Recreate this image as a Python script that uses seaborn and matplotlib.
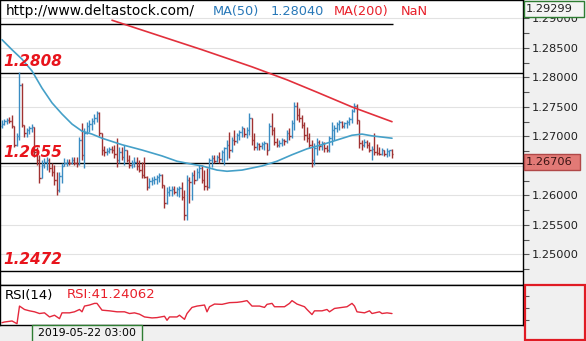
import matplotlib
matplotlib.use("Agg")
import matplotlib.pyplot as plt
from matplotlib.patches import Rectangle
import seaborn as sns
import numpy as np

# ---------------- data ----------------
first_open = 1.2718
highs = [
    1.2728, 1.2730, 1.2731, 1.2733, 1.2736, 1.2718, 1.2706, 1.2809, 1.2791, 1.2719,
    1.2714, 1.2718, 1.2721, 1.2716, 1.2682, 1.2669, 1.2660, 1.2664, 1.2665, 1.2664,
    1.2655, 1.2652, 1.2640, 1.2640, 1.2655, 1.2664, 1.2662, 1.2662, 1.2665, 1.2665,
    1.2665, 1.2699, 1.2723, 1.2714, 1.2725, 1.2728, 1.2731, 1.2738, 1.2743, 1.2742,
    1.2706, 1.2684, 1.2680, 1.2682, 1.2684, 1.2686, 1.2697, 1.2682, 1.2682, 1.2686,
    1.2677, 1.2669, 1.2660, 1.2665, 1.2665, 1.2660, 1.2657, 1.2665, 1.2633, 1.2630,
    1.2631, 1.2633, 1.2635, 1.2638, 1.2636, 1.2618, 1.2614, 1.2616, 1.2616, 1.2616,
    1.2614, 1.2616, 1.2623, 1.2609, 1.2635, 1.2631, 1.2640, 1.2643, 1.2647, 1.2652,
    1.2652, 1.2643, 1.2647, 1.2664, 1.2669, 1.2669, 1.2669, 1.2674, 1.2677, 1.2682,
    1.2694, 1.2708, 1.2699, 1.2711, 1.2706, 1.2711, 1.2718, 1.2714, 1.2716, 1.2740,
    1.2731, 1.2706, 1.2691, 1.2689, 1.2691, 1.2692, 1.2689, 1.2723, 1.2740, 1.2716,
    1.2697, 1.2694, 1.2697, 1.2696, 1.2711, 1.2714, 1.2728, 1.2758, 1.2758, 1.2748,
    1.2736, 1.2725, 1.2716, 1.2706, 1.2694, 1.2689, 1.2697, 1.2694, 1.2692, 1.2691,
    1.2686, 1.2701, 1.2725, 1.2719, 1.2725, 1.2728, 1.2726, 1.2725, 1.2728, 1.2733,
    1.2747, 1.2757, 1.2755, 1.2728, 1.2694, 1.2696, 1.2694, 1.2691, 1.2684, 1.2706,
    1.2687, 1.2682, 1.2680, 1.2677, 1.2680, 1.2677, 1.2679]
lows = [
    1.2714, 1.2719, 1.2721, 1.2723, 1.2714, 1.2682, 1.2684, 1.2694, 1.2716, 1.2699,
    1.2699, 1.2704, 1.2708, 1.2665, 1.2652, 1.2621, 1.2630, 1.2647, 1.2643, 1.2640,
    1.2633, 1.2618, 1.2601, 1.2606, 1.2621, 1.2650, 1.2650, 1.2652, 1.2653, 1.2652,
    1.2648, 1.2652, 1.2660, 1.2647, 1.2704, 1.2708, 1.2711, 1.2721, 1.2725, 1.2701,
    1.2669, 1.2667, 1.2669, 1.2672, 1.2672, 1.2664, 1.2648, 1.2655, 1.2660, 1.2652,
    1.2657, 1.2647, 1.2647, 1.2648, 1.2643, 1.2640, 1.2630, 1.2630, 1.2609, 1.2612,
    1.2618, 1.2619, 1.2619, 1.2623, 1.2613, 1.2579, 1.2585, 1.2599, 1.2599, 1.2602,
    1.2599, 1.2597, 1.2592, 1.2558, 1.2558, 1.2587, 1.2592, 1.2619, 1.2626, 1.2630,
    1.2621, 1.2609, 1.2609, 1.2613, 1.2648, 1.2655, 1.2657, 1.2655, 1.2657, 1.2652,
    1.2660, 1.2664, 1.2674, 1.2686, 1.2689, 1.2694, 1.2699, 1.2699, 1.2697, 1.2702,
    1.2686, 1.2677, 1.2677, 1.2677, 1.2679, 1.2677, 1.2669, 1.2677, 1.2702, 1.2686,
    1.2682, 1.2682, 1.2684, 1.2686, 1.2689, 1.2694, 1.2697, 1.2711, 1.2728, 1.2725,
    1.2714, 1.2694, 1.2691, 1.2680, 1.2648, 1.2652, 1.2669, 1.2677, 1.2677, 1.2674,
    1.2674, 1.2674, 1.2686, 1.2694, 1.2708, 1.2711, 1.2714, 1.2714, 1.2714, 1.2719,
    1.2723, 1.2742, 1.2721, 1.2680, 1.2677, 1.2682, 1.2680, 1.2674, 1.2660, 1.2669,
    1.2669, 1.2669, 1.2669, 1.2667, 1.2665, 1.2667, 1.2664]
closes = [
    1.2721, 1.2726, 1.2728, 1.2726, 1.2718, 1.2686, 1.2701, 1.2787, 1.2719, 1.2706,
    1.2711, 1.2714, 1.2716, 1.2674, 1.2660, 1.2630, 1.2652, 1.2657, 1.2660, 1.2647,
    1.2640, 1.2626, 1.2609, 1.2633, 1.2650, 1.2655, 1.2657, 1.2655, 1.2660, 1.2655,
    1.2653, 1.2694, 1.2669, 1.2706, 1.2718, 1.2721, 1.2726, 1.2731, 1.2740, 1.2706,
    1.2677, 1.2674, 1.2675, 1.2679, 1.2677, 1.2670, 1.2660, 1.2674, 1.2665, 1.2677,
    1.2660, 1.2652, 1.2655, 1.2657, 1.2650, 1.2643, 1.2635, 1.2631, 1.2614, 1.2624,
    1.2626, 1.2628, 1.2631, 1.2635, 1.2618, 1.2587, 1.2606, 1.2609, 1.2611, 1.2606,
    1.2611, 1.2613, 1.2597, 1.2567, 1.2626, 1.2623, 1.2635, 1.2626, 1.2640, 1.2647,
    1.2626, 1.2616, 1.2614, 1.2660, 1.2664, 1.2658, 1.2665, 1.2662, 1.2674, 1.2680,
    1.2686, 1.2677, 1.2694, 1.2692, 1.2702, 1.2708, 1.2714, 1.2704, 1.2711, 1.2731,
    1.2694, 1.2682, 1.2687, 1.2684, 1.2687, 1.2689, 1.2677, 1.2718, 1.2711, 1.2691,
    1.2686, 1.2689, 1.2694, 1.2692, 1.2706, 1.2701, 1.2723, 1.2752, 1.2736, 1.2731,
    1.2719, 1.2702, 1.2697, 1.2686, 1.2660, 1.2680, 1.2691, 1.2684, 1.2689, 1.2680,
    1.2677, 1.2697, 1.2711, 1.2714, 1.2721, 1.2725, 1.2718, 1.2723, 1.2725, 1.2730,
    1.2743, 1.2752, 1.2728, 1.2689, 1.2686, 1.2691, 1.2686, 1.2677, 1.2679, 1.2674,
    1.2672, 1.2670, 1.2677, 1.2670, 1.2675, 1.2677, 1.2671]

ma50_bars = [0, 4, 8, 12, 16, 20, 24, 28, 32, 36, 40, 48, 56, 64, 70, 76, 80, 86,
             90, 96, 104, 110, 116, 122, 128, 134, 140, 144, 148, 152, 156]
ma50_vals = [1.2864, 1.2847, 1.2831, 1.2811, 1.2782, 1.2757, 1.2738, 1.2721, 1.2709,
             1.2704, 1.2697, 1.2686, 1.2677, 1.2667, 1.2658, 1.2653, 1.2650, 1.2643,
             1.2641, 1.2643, 1.2650, 1.2658, 1.2669, 1.2679, 1.2686, 1.2694, 1.2702,
             1.2704, 1.2701, 1.2699, 1.2697]
ma200_bars = [44, 62, 80, 100, 114, 126, 140, 156]
ma200_vals = [1.2897, 1.2872, 1.2847, 1.2818, 1.2796, 1.2775, 1.2750, 1.2725]

rsi_bars = [0, 1, 4, 6, 7, 9, 11, 13, 15, 17, 19, 21, 23, 24, 27, 29, 31, 32, 33, 35,
            37, 38, 40, 43, 46, 49, 51, 53, 55, 57, 60, 62, 65, 66, 67, 70, 71, 73, 74, 76,
            78, 81, 82, 83, 85, 88, 91, 94, 96, 98, 100, 103, 105, 106, 108, 109, 113, 115,
            116, 118, 121, 122, 124, 125, 128, 130, 131, 133, 136, 138, 140, 141, 142, 145,
            147, 148, 151, 152, 154, 156]
rsi_vals = [26.3, 27.4, 29.1, 24.6, 53.5, 47.9, 45.7, 44.1, 41.3, 42.4,
            35.7, 38.5, 32.9, 42.4, 42.4, 44.1, 47.9, 44.1, 53.5, 55.2,
            57.9, 57.9, 46.8, 45.7, 44.1, 44.1, 41.3, 42.4, 40.2, 35.7,
            34.1, 34.6, 36.8, 30.2, 35.7, 35.7, 38.5, 31.8, 41.3, 51.3,
            53.5, 55.2, 44.1, 52.4, 56.8, 56.3, 59.1, 59.6, 60.7, 62.4,
            53.5, 53.5, 51.3, 56.3, 57.9, 52.4, 52.4, 57.9, 62.4, 56.8,
            52.4, 47.9, 39.6, 45.7, 45.7, 47.9, 44.1, 49.6, 51.3, 52.4,
            57.9, 53.5, 44.1, 42.4, 45.7, 41.3, 44.1, 41.3, 42.4, 41.24]

levels = [1.2808, 1.2655, 1.2472]
level_labels = ["1.2808", "1.2655", "1.2472"]
top_line_level = 1.2890
price_ticks = [1.250, 1.255, 1.260, 1.265, 1.270, 1.275, 1.280, 1.285, 1.290]
hidden_tick = 1.265          # its label sits behind the bid box
ask_text = "1.29299"
bid_text = "1.26706"
date_text = "2019-05-22 03:00"

# ---------------- style ----------------
BLUE = "#3a8cc2"
RED = "#a03232"
MA50_C = "#45a0c8"
MA200_C = "#e2303c"
RSI_C = "#e4283c"
LEVEL_C = "#e8141c"

sns.set_style("white")
plt.rcParams['font.family'] = ['DejaVu Sans']

W, H = 586, 341
fig = plt.figure(figsize=(W / 100, H / 100), dpi=100)
fig.patch.set_facecolor("white")

def fx(px):
    return px / W

def fy(py):
    return 1 - py / H

PLOT_R = 523
MAIN_BOT = 285
RSI_BOT = 325
XMIN, XMAX = -0.8, 208.4

fig.add_artist(Rectangle((fx(PLOT_R), 0), 1 - fx(PLOT_R), 1, transform=fig.transFigure,
                         facecolor="#f0f0f0", edgecolor="none", zorder=-5))
fig.add_artist(Rectangle((0, 0), fx(PLOT_R), fy(RSI_BOT), transform=fig.transFigure,
                         facecolor="#f0f0f0", edgecolor="none", zorder=-5))

ax = fig.add_axes([0, fy(MAIN_BOT), fx(PLOT_R), 1 - fy(MAIN_BOT)])
ax2 = fig.add_axes([0, fy(RSI_BOT), fx(PLOT_R), fy(MAIN_BOT) - fy(RSI_BOT)])

# ---------------- price panel ----------------
n = len(closes)
idx = np.arange(n)
opens = [first_open] + closes[:-1]
up = np.array(closes) >= np.array(opens)
colors = np.where(up, BLUE, RED)
ax.vlines(idx, lows, highs, colors=colors, lw=1.0, zorder=3)
ax.hlines(opens, idx - 0.5, idx, colors=colors, lw=1.0, zorder=3)
ax.hlines(closes, idx, idx + 0.5, colors=colors, lw=1.0, zorder=3)

sns.lineplot(x=ma50_bars, y=ma50_vals, ax=ax, color=MA50_C, lw=1.2, legend=False, zorder=4)
sns.lineplot(x=ma200_bars, y=ma200_vals, ax=ax, color=MA200_C, lw=1.2, legend=False, zorder=4)

for lv in levels:
    ax.axhline(lv, color="black", lw=1.0, zorder=2)
ax.hlines(top_line_level, XMIN, n - 0.6, color="black", lw=1.0, zorder=2)
for lv, txt in zip(levels, level_labels):
    ax.annotate(txt, xy=(0, lv), xycoords=("axes fraction", "data"), xytext=(3, 11),
                textcoords="offset pixels", ha="left", va="center", fontsize=11,
                fontweight="bold", fontstyle="italic", color=LEVEL_C, zorder=6)

ax.set_xlim(XMIN, XMAX)
ax.set_ylim(1.24482, 1.29313)
ax.set_xticks([])
ax.yaxis.tick_right()
ax.set_yticks(price_ticks)
ax.set_yticklabels(["" if abs(v - hidden_tick) < 1e-9 else f"{v:.5f}" for v in price_ticks])
ax.set_yticks([v + 0.0025 for v in price_ticks[:-1]] + [1.2475], minor=True)
ax.tick_params(axis="y", which="both", direction="out", length=4, width=0.8,
               color="#555555", labelsize=8.2, labelcolor="#202020", pad=2)
ax.grid(axis="y", which="major", color="#e2e2e2", lw=0.8)
ax.set_axisbelow(True)
ax.set_xlabel("")
ax.set_ylabel("")
for s in ax.spines.values():
    s.set_color("black")
    s.set_linewidth(1.0)

# ---------------- RSI panel ----------------
sns.lineplot(x=rsi_bars, y=rsi_vals, ax=ax2, color=RSI_C, lw=1.0, legend=False)
ax2.set_xlim(XMIN, XMAX)
ax2.set_ylim(22.5, 88.0)
ax2.set_xticks([])
ax2.yaxis.tick_right()
ax2.set_yticks([30, 50, 70])
ax2.set_yticklabels([])
ax2.tick_params(axis="y", direction="out", length=4, width=0.8, color="#555555")
ax2.set_xlabel("")
ax2.set_ylabel("")
for s in ax2.spines.values():
    s.set_color("black")
    s.set_linewidth(1.0)

# ---------------- texts and boxes ----------------
hy = fy(11.5)
fig.text(fx(5.5), hy, "http://www.deltastock.com/", fontsize=9.9, color="black", va="center")
fig.text(fx(213), hy, "MA(50)", fontsize=9.3, color="#2878b8", va="center")
fig.text(fx(271), hy, "1.28040", fontsize=9.3, color="#2878b8", va="center")
fig.text(fx(334), hy, "MA(200)", fontsize=9.3, color="#e8202a", va="center")
fig.text(fx(401), hy, "NaN", fontsize=9.3, color="#e8202a", va="center")

fig.text(fx(4.5), fy(295), "RSI(14)", fontsize=9.5, color="black", va="center")
fig.text(fx(67), fy(295), "RSI:41.24062", fontsize=9.5, color="#e8202a", va="center")

fig.add_artist(Rectangle((fx(523.5), fy(17)), fx(584) - fx(523.5), fy(0.5) - fy(17),
                         transform=fig.transFigure, facecolor="#f4f4f4",
                         edgecolor="#2e7d32", lw=1, zorder=5))
fig.text(fx(525.5), fy(8.5), ask_text, fontsize=8.2, color="#202020", va="center", zorder=6)

fig.add_artist(Rectangle((fx(523.5), fy(170)), fx(580) - fx(523.5), fy(154) - fy(170),
                         transform=fig.transFigure, facecolor="#e27a76",
                         edgecolor="#b04848", lw=1, zorder=5))
fig.text(fx(525.5), fy(162), bid_text, fontsize=8.2, color="#3a1414", va="center", zorder=6)

fig.add_artist(Rectangle((fx(524.5), fy(340)), fx(584.5) - fx(524.5), fy(285) - fy(340),
                         transform=fig.transFigure, facecolor="none",
                         edgecolor="#e01b24", lw=1.6, zorder=5))

fig.add_artist(Rectangle((fx(32), fy(342)), fx(142) - fx(32), fy(RSI_BOT) - fy(342),
                         transform=fig.transFigure, facecolor="#f0f0f0",
                         edgecolor="#2e7d32", lw=1, zorder=5))
fig.text(fx(87), fy(333), date_text, fontsize=7.8, color="black", ha="center",
         va="center", zorder=6)

fig.savefig("out.png", dpi=100)
